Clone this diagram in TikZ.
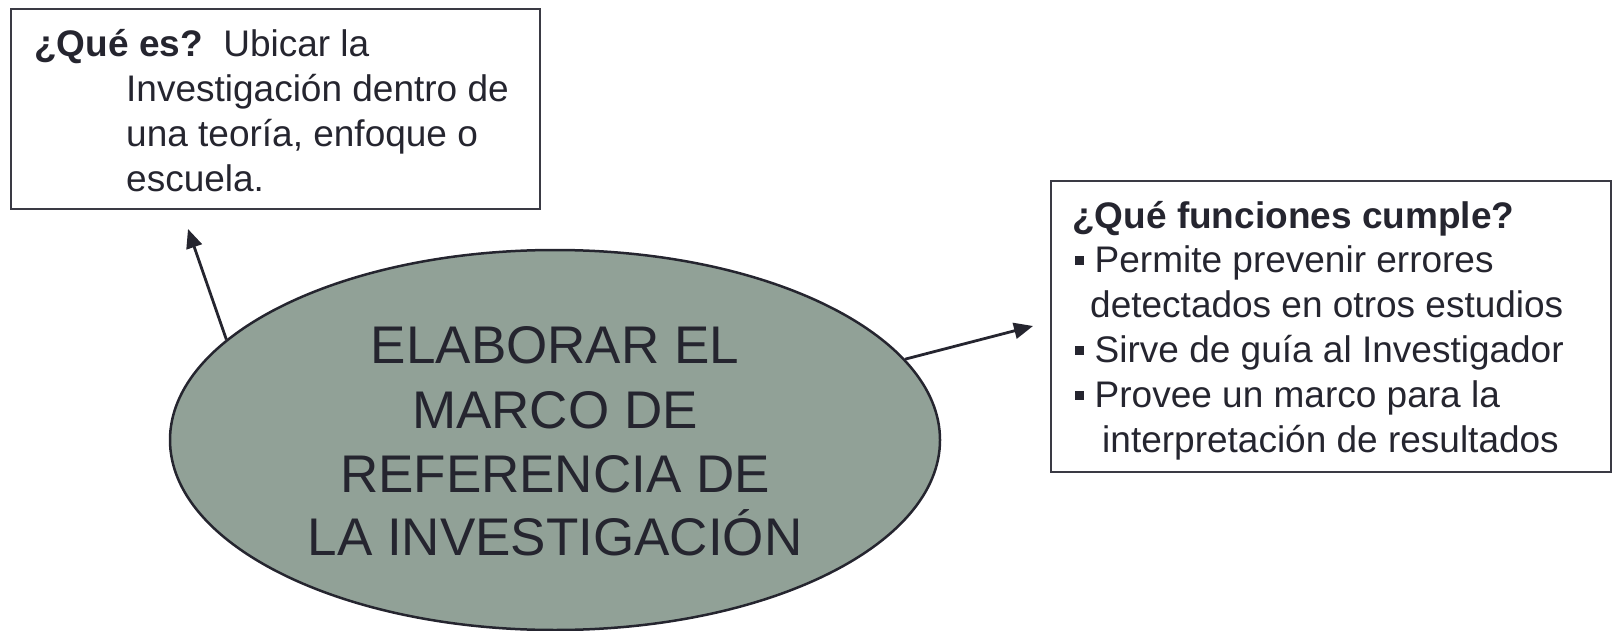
\documentclass[tikz,border=0pt]{standalone}
\usepackage{fontspec}
\setmainfont{Liberation Sans}
\usetikzlibrary{shapes.geometric,arrows.meta}
\definecolor{ink}{HTML}{25252F}
\definecolor{ellfill}{HTML}{91A197}
\definecolor{boxline}{HTML}{3A3A44}
\tikzset{
  txt/.style={anchor=base west, inner sep=0pt, text=ink, font=\fontsize{37}{45}\selectfont},
  bigtxt/.style={anchor=base, inner sep=0pt, text=ink, font=\fontsize{53}{64}\selectfont},
  infobox/.style={draw=boxline, line width=1.6pt, anchor=north west, inner sep=0pt},
  conn/.style={draw=ink, line width=2.8pt, -{Triangle[length=19pt,width=16pt]}},
}
\newcommand{\sqbullet}{\raisebox{0.19em}{\rule{0.25em}{0.25em}}}
\begin{document}
\begin{tikzpicture}[x=1pt,y=-1pt]
\useasboundingbox (0,0) rectangle (1616,631);
% boxes
\node[infobox, minimum width=529pt, minimum height=200pt] (qbox) at (10,8) {};
\node[infobox, minimum width=560pt, minimum height=291pt] (fbox) at (1050,180) {};
% left box text
\node[txt] (q1) at (34,57) {\textbf{¿Qué es?}\ \ Ubicar la};
\node[txt] (q2) at (126,102) {Investigación dentro de};
\node[txt] (q3) at (126,147) {una teoría, enfoque o};
\node[txt] (q4) at (126,192) {escuela.};
% right box text
\node[txt] (f0) at (1072,228) {\textbf{¿Qué funciones cumple?}};
\node[txt] (f1) at (1075,272) {\sqbullet\ Permite prevenir errores};
\node[txt] (f2) at (1090,317) {detectados en otros estudios};
\node[txt] (f3) at (1075,362) {\sqbullet\ Sirve de guía al Investigador};
\node[txt] (f4) at (1075,407) {\sqbullet\ Provee un marco para la};
\node[txt] (f5) at (1102,452) {interpretación de resultados};
% ellipse
\node[ellipse, draw=ink, line width=2.5pt, fill=ellfill, minimum width=770pt, minimum height=380pt, inner sep=0pt] (ell) at (555,440) {};
\node[bigtxt] (e1) at (555,363) {ELABORAR EL};
\node[bigtxt] (e2) at (555,428) {MARCO DE};
\node[bigtxt] (e3) at (555,492) {REFERENCIA DE};
\node[bigtxt] (e4) at (555,555) {LA INVESTIGACIÓN};
% connectors
\coordinate (t1) at (188,229);
\coordinate (t2) at (1033,326);
\draw[conn] (ell.163.5) -- (t1);
\draw[conn] (ell.13.4) -- (t2);
\end{tikzpicture}
\end{document}
